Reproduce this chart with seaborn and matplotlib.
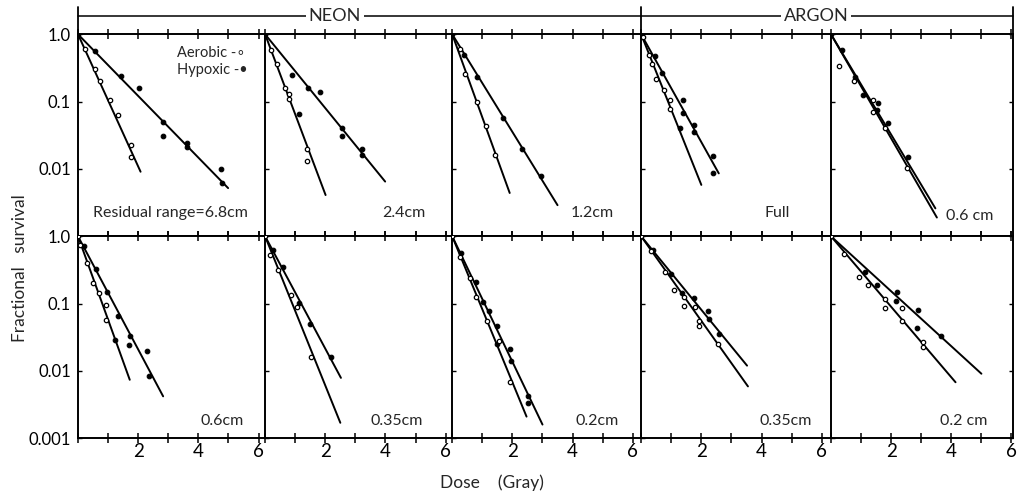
import matplotlib
matplotlib.use("Agg")
import matplotlib.pyplot as plt
from matplotlib.lines import Line2D
from matplotlib.ticker import NullLocator
import seaborn as sns

# panels: top row (NEON 6.8, 2.4, 1.2 cm | ARGON full, 0.6 cm),
#         bottom row (NEON 0.6, 0.35, 0.2 cm | ARGON 0.35, 0.2 cm)
top_labels = ["Residual range=6.8cm", "2.4cm", "1.2cm", "Full", "0.6 cm"]
bottom_labels = ["0.6cm", "0.35cm", "0.2cm", "0.35cm", "0.2 cm"]
panel_labels = top_labels + bottom_labels

# aerobic (open circles)
aer_dose = [
    [0.22, 0.55, 0.74, 1.07, 1.34, 1.75, 1.75],
    [0.21, 0.40, 0.66, 0.81, 0.81, 1.40, 1.40],
    [0.25, 0.44, 0.81, 1.13, 1.41],
    [0.05, 0.25, 0.36, 0.50, 0.75, 0.95, 0.95],
    [0.27, 0.75, 1.41, 1.41, 1.78, 2.52],
    [0, 0.06, 0.31, 0.50, 0.70, 0.92, 0.92],
    [0, 0.17, 0.44, 0.86, 1.06, 1.53],
    [0, 0.27, 0.60, 0.80, 1.15, 1.55, 1.91],
    [0, 0.33, 0.78, 1.08, 1.44, 1.44, 1.78, 1.92, 1.92, 2.55],
    [0, 0.44, 0.94, 1.22, 1.81, 1.81, 2.37, 2.37, 3.05, 3.05],
]
aer_surv = [
    [0.60, 0.31, 0.20, 0.107, 0.063, 0.023, 0.015],
    [0.58, 0.36, 0.16, 0.13, 0.108, 0.020, 0.013],
    [0.60, 0.26, 0.10, 0.044, 0.016],
    [0.92, 0.50, 0.36, 0.22, 0.15, 0.106, 0.079],
    [0.34, 0.20, 0.105, 0.069, 0.040, 0.0105],
    [1.0, 0.75, 0.40, 0.20, 0.145, 0.097, 0.057],
    [1.0, 0.53, 0.32, 0.135, 0.089, 0.016],
    [1.0, 0.50, 0.24, 0.126, 0.055, 0.028, 0.0068],
    [1.0, 0.60, 0.30, 0.158, 0.126, 0.091, 0.089, 0.055, 0.046, 0.025],
    [1.0, 0.55, 0.25, 0.19, 0.117, 0.086, 0.086, 0.056, 0.027, 0.023],
]

# hypoxic (filled circles)
hyp_dose = [
    [0, 0.58, 1.43, 2.03, 2.82, 2.84, 3.61, 3.61, 4.74, 4.78],
    [0, 0.88, 1.43, 1.84, 1.12, 2.54, 2.54, 3.23, 3.23],
    [0, 0.39, 0.83, 1.70, 2.33, 2.94],
    [0, 0.47, 0.69, 1.38, 1.38, 1.30, 1.77, 1.77, 2.39, 2.39],
    [0, 0.36, 0.80, 1.08, 1.56, 1.52, 1.91, 2.56],
    [0.19, 0.59, 0.98, 1.33, 1.72, 1.70, 2.31, 2.37, 1.22],
    [0.26, 0.61, 1.14, 1.50, 2.20],
    [0.30, 0.80, 1.02, 1.22, 1.50, 1.50, 1.91, 1.94, 2.52, 2.52],
    [0.39, 1.00, 1.37, 1.74, 2.22, 2.24, 2.59],
    [1.14, 1.52, 2.20, 2.17, 2.89, 2.85, 3.67],
]
hyp_surv = [
    [1.0, 0.56, 0.24, 0.16, 0.050, 0.031, 0.024, 0.021, 0.010, 0.0061],
    [1.0, 0.25, 0.16, 0.14, 0.066, 0.040, 0.031, 0.020, 0.016],
    [1.0, 0.50, 0.23, 0.058, 0.020, 0.0079],
    [1.0, 0.48, 0.27, 0.105, 0.067, 0.040, 0.045, 0.035, 0.0155, 0.0088],
    [1.0, 0.58, 0.23, 0.125, 0.094, 0.075, 0.048, 0.015],
    [0.71, 0.33, 0.148, 0.066, 0.033, 0.024, 0.020, 0.0085, 0.029],
    [0.62, 0.35, 0.102, 0.050, 0.016],
    [0.57, 0.21, 0.104, 0.077, 0.047, 0.025, 0.021, 0.014, 0.0042, 0.0033],
    [0.62, 0.28, 0.145, 0.12, 0.079, 0.059, 0.036],
    [0.29, 0.19, 0.147, 0.108, 0.080, 0.043, 0.033],
]

# fitted lines run from (0, 1.0) to these end points
aer_fit_dose = [2.08, 2.01, 1.91, 2.00, 3.52, 1.72, 2.50, 2.47, 3.55, 4.14]
aer_fit_surv = [0.0091, 0.0041, 0.0044, 0.0058, 0.0019, 0.0074, 0.0017, 0.0021, 0.0059, 0.0068]
hyp_fit_dose = [4.99, 3.99, 3.50, 2.58, 3.47, 2.83, 2.52, 3.00, 3.52, 5.00]
hyp_fit_surv = [0.0052, 0.0065, 0.0029, 0.0086, 0.0026, 0.0042, 0.0079, 0.0016, 0.012, 0.0091]

surv_ticks = [1.0, 0.1, 0.01, 0.001]
dose_ticks = [0, 1, 2, 3, 4, 5, 6]
dose_ticklabels = ["", "", "2", "", "4", "", "6"]

# caption placement (right edge, dose / survival)
label_x = [5.65, 5.33, 5.37, 4.95, 5.4, 5.5, 5.23, 5.53, 5.67, 5.2]
label_y = [0.0022, 0.0022, 0.0022, 0.0022, 0.0020, 0.0018, 0.0018, 0.0018, 0.0018, 0.0018]

sns.set_theme(style="white")
plt.rcParams["font.family"] = ["Lato", "DejaVu Sans"]
plt.rcParams["axes.linewidth"] = 1.4

xmax = [6.22, 6.22, 6.28, 6.31, 6.05]
fig, axes = plt.subplots(2, 5, figsize=(10.2, 5), dpi=100,
                         gridspec_kw={"width_ratios": xmax, "wspace": 0, "hspace": 0})
fig.subplots_adjust(left=78 / 1020, right=1013 / 1020, top=1 - 34.3 / 500, bottom=1 - 438.3 / 500)

for i, ax in enumerate(axes.flat):
    row, col = divmod(i, 5)
    sns.lineplot(x=[0, aer_fit_dose[i]], y=[1.0, aer_fit_surv[i]], ax=ax,
                 color="black", lw=1.4, estimator=None, sort=False)
    sns.lineplot(x=[0, hyp_fit_dose[i]], y=[1.0, hyp_fit_surv[i]], ax=ax,
                 color="black", lw=1.4, estimator=None, sort=False)
    sns.scatterplot(x=hyp_dose[i], y=hyp_surv[i], ax=ax, marker="o", s=11,
                    facecolor="black", edgecolor="black", linewidth=0.8, zorder=3)
    sns.scatterplot(x=aer_dose[i], y=aer_surv[i], ax=ax, marker="o", s=10,
                    facecolor="white", edgecolor="black", linewidth=0.9, zorder=4)

    ax.set_yscale("log")
    ax.set_ylim(0.001, 1.0)
    ax.set_xlim(0, xmax[col])
    ax.yaxis.set_minor_locator(NullLocator())
    ax.set_yticks(surv_ticks)
    if col == 0:
        if row == 0:
            ax.set_yticklabels(["1.0", "0.1", "0.01", ""])
        else:
            ax.set_yticklabels(["1.0", "0.1", "0.01", "0.001"])
    else:
        ax.set_yticklabels([])
    ax.set_xticks(dose_ticks)
    if row == 1:
        ax.set_xticklabels(dose_ticklabels)
    else:
        ax.set_xticklabels([])
    ax.tick_params(axis="x", which="both", top=True, bottom=True, direction="inout",
                   length=7, width=1.1, labelsize=13.5, pad=0, colors="black")
    ax.tick_params(axis="y", which="both", left=True, right=(col == 4), direction="in",
                   length=3, width=1, labelsize=12, pad=5, colors="black")
    for side in ["left", "top", "bottom", "right"]:
        ax.spines[side].set_color("black")
    ax.spines["right"].set_visible(col == 4)
    ax.set_xlabel("")
    ax.set_ylabel("")
    ax.text(label_x[i], label_y[i], panel_labels[i], ha="right", va="center", fontsize=11.5)

# legend text in the first panel
axes[0, 0].text(3.29, 0.53, "Aerobic -∘", ha="left", va="center", fontsize=10.5)
axes[0, 0].text(3.29, 0.29, "Hypoxic -•", ha="left", va="center", fontsize=10.5)

# NEON / ARGON bracket above the panels
yb = 1 - 15.7 / 500
ytop = axes[0, 0].get_position().y1
x0 = axes[0, 0].get_position().x0
xm = axes[0, 3].get_position().x0
x1 = axes[0, 4].get_position().x1
fig.add_artist(Line2D([x0, x1], [yb, yb], color="black", lw=1.1))
for xv in [x0, xm, x1]:
    fig.add_artist(Line2D([xv, xv], [1 - 7 / 500, ytop], color="black", lw=1.3))
fig.text(335 / 1020, yb, "NEON", ha="center", va="center", fontsize=13,
         bbox=dict(facecolor="white", edgecolor="none", pad=2))
fig.text(816 / 1020, yb, "ARGON", ha="center", va="center", fontsize=13,
         bbox=dict(facecolor="white", edgecolor="none", pad=2))

fig.text(20 / 1020, 1 - 268 / 500, "Fractional   survival", rotation=90,
         ha="center", va="center", fontsize=12.5)
fig.text(492 / 1020, 1 - 483 / 500, "Dose    (Gray)", ha="center", va="center", fontsize=12.5)

fig.savefig("out.png", dpi=100)
